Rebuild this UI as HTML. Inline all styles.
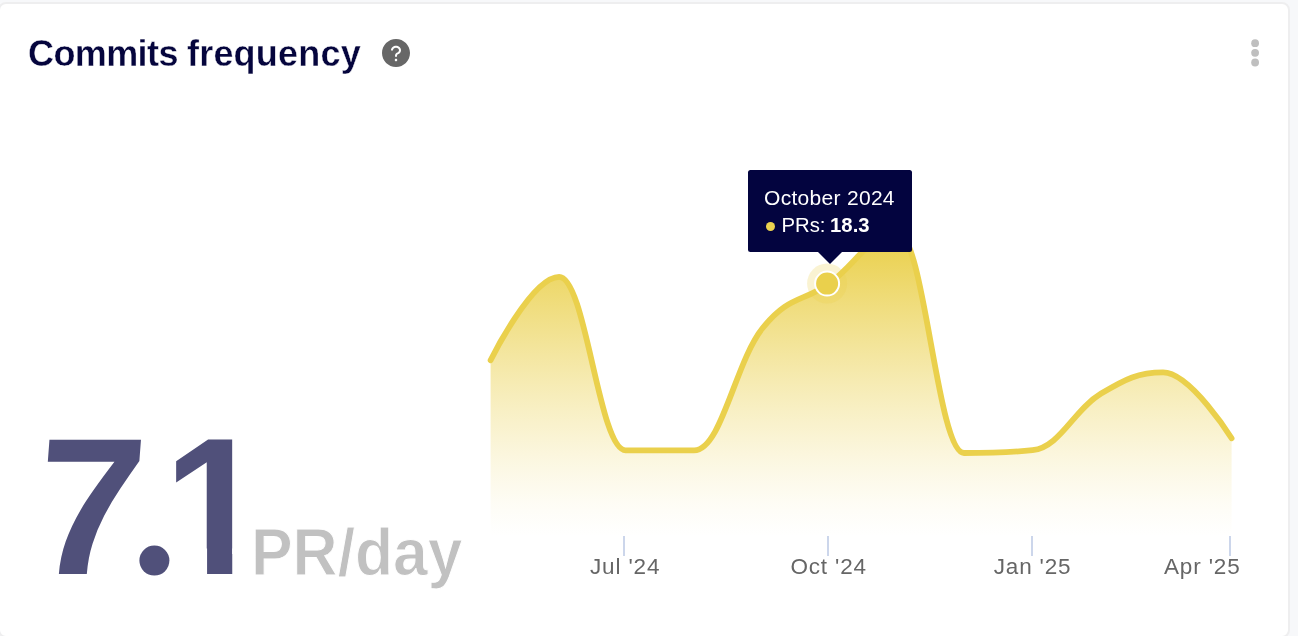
<!DOCTYPE html>
<html lang="en">
<head>
<meta charset="utf-8">
<title>Commits frequency</title>
<style>
  html, body { margin: 0; padding: 0; }
  body {
    width: 1298px; height: 636px; overflow: hidden; position: relative;
    background: #f7f8fa;
    font-family: "Liberation Sans", sans-serif;
  }
  .card {
    position: absolute; left: -2.300px; top: 2px; width: 1292.500px; height: 636px;
    box-sizing: border-box; background: #fff;
    border: 2px solid #eeeeef; border-radius: 8px;
  }
  .title {
    position: absolute; left: 28px; top: 35.900px; margin: 0; width: 340px; height: 36px;
    font-size: 36px; line-height: 36px; font-weight: 700; color: #05053d;
    white-space: nowrap; -webkit-text-stroke: 0.350px #ffffff;
  }
  .title .w1 { position: absolute; left: 0; top: 0; letter-spacing: -0.6px; }
  .title .w2 { position: absolute; left: 159px; top: 0; letter-spacing: 0.2px; }
  .help { position: absolute; left: 380px; top: 37px; width: 32px; height: 32px; }
  .more { position: absolute; left: 1239px; top: 37px; width: 32px; height: 32px; }
  .big {
    position: absolute; left: 0; top: 0; margin: 0;
    font-weight: 700; color: #50507a; white-space: nowrap;
    font-size: 195px; line-height: 195px;
  }
  .big span { position: absolute; display: block; }
  .big .d7 { left: 41px; top: 408.500px; transform-origin: 0 31px; transform: skewX(-4.300deg); }
  .big .dp { left: 123.400px; top: 387.100px; font-size: 225px; line-height: 225px; clip-path: circle(15px at 31px 173.500px); }
  .big .d1 { left: 160px; top: 408.500px; transform-origin: 72.250px 0; transform: scaleX(0.95); clip-path: polygon(0 0, 108px 0, 108px 140px, 72.250px 140px, 72.250px 195px, 45.750px 195px, 45.750px 140px, 0 140px); }
  .unit {
    position: absolute; left: 251px; top: 518.500px; margin: 0;
    font-weight: 700; color: #c1c1c1; white-space: nowrap;
    font-size: 66px; line-height: 66px;
    -webkit-text-stroke: 1px #ffffff;
    transform-origin: 0 0; transform: scaleX(0.945);
  }
  svg.chart { position: absolute; left: 0; top: 0; }
  svg text { font-family: "Liberation Sans", sans-serif; }
  .tip {
    position: absolute; left: 748px; top: 170px; width: 164px; height: 82px;
    background: #03043f; border-radius: 2.500px; color: #fff;
    box-sizing: border-box;
  }
  .tip:after {
    content: ""; position: absolute; left: 70px; top: 81.500px;
    border: 12px solid transparent; border-top-color: #03043f; border-bottom-width: 0;
  }
  .tip .l1 { position: absolute; left: 16px; top: 15.400px; font-size: 21px; line-height: 26px; white-space: nowrap; letter-spacing: 0.3px; }
  .tip .l2 { position: absolute; left: 33.500px; top: 41.900px; font-size: 20.300px; word-spacing: -1px; line-height: 26px; white-space: nowrap; }
  .tip .dot { position: absolute; left: 17.5px; top: 51.5px; width: 9.5px; height: 9.5px; border-radius: 50%; background: #ebd24f; }
  .tip b { font-weight: 700; }
</style>
</head>
<body>
<div class="card"></div>

<h2 class="title"><span class="w1">Commits</span> <span class="w2">frequency</span></h2>

<svg class="help" viewBox="0 0 1024 1024" aria-label="help">
  <path fill="#676767" d="M512 64C264.6 64 64 264.6 64 512s200.6 448 448 448 448-200.6 448-448S759.4 64 512 64zm0 708c-22.100 0-40-17.900-40-40s17.900-40 40-40 40 17.900 40 40-17.900 40-40 40zm62.900-219.500a48.300 48.300 0 0 0-30.900 44.800V620c0 4.400-3.600 8-8 8h-48c-4.400 0-8-3.600-8-8v-21.500c0-23.100 6.700-45.900 19.900-64.900 12.900-18.600 30.900-32.800 52.100-40.900 34-13.100 56-41.600 56-72.700 0-44.100-43.100-80-96-80s-96 35.900-96 80v7.600c0 4.400-3.600 8-8 8h-48c-4.400 0-8-3.600-8-8V420c0-39.300 17.200-76 48.400-103.300C430.400 290.400 470 276 512 276s81.600 14.500 111.600 40.700C654.800 344 672 380.700 672 420c0 57.800-38.100 109.800-97.100 132.500z"/>
</svg>

<svg class="more" viewBox="0 0 32 32" aria-label="more">
  <circle cx="16.1" cy="6.2" r="3.900" fill="#bfbfbf"/>
  <circle cx="16.1" cy="15.85" r="3.900" fill="#bfbfbf"/>
  <circle cx="16.1" cy="25.5" r="3.900" fill="#bfbfbf"/>
</svg>

<svg class="chart" width="1298" height="636" viewBox="0 0 1298 636">
  <defs>
    <linearGradient id="g" gradientUnits="userSpaceOnUse" x1="0" y1="229" x2="0" y2="536">
      <stop offset="0.0" stop-color="#ead04c" stop-opacity="1.000"/>
      <stop offset="0.1" stop-color="#ead04c" stop-opacity="0.916"/>
      <stop offset="0.2" stop-color="#ead04c" stop-opacity="0.786"/>
      <stop offset="0.3" stop-color="#ead04c" stop-opacity="0.660"/>
      <stop offset="0.4" stop-color="#ead04c" stop-opacity="0.540"/>
      <stop offset="0.5" stop-color="#ead04c" stop-opacity="0.426"/>
      <stop offset="0.6" stop-color="#ead04c" stop-opacity="0.319"/>
      <stop offset="0.7" stop-color="#ead04c" stop-opacity="0.220"/>
      <stop offset="0.8" stop-color="#ead04c" stop-opacity="0.130"/>
      <stop offset="0.9" stop-color="#ead04c" stop-opacity="0.053"/>
      <stop offset="1.0" stop-color="#ead04c" stop-opacity="0.000"/>
    </linearGradient>
  </defs>
  <path d="M490.60 360.30 C490.60 360.30 531.74 276.80 559.17 276.80 C585.71 276.80 598.99 450.30 625.53 450.30 C652.96 450.30 666.67 450.30 694.10 450.30 C721.53 450.30 735.24 361.89 762.67 328.00 C789.21 295.21 802.48 302.39 829.03 283.60 C856.45 264.19 870.17 232.50 897.60 232.50 C924.14 232.50 937.41 453.00 963.96 453.00 C991.38 453.00 1005.10 453.00 1032.53 450.20 C1059.95 447.40 1073.67 409.85 1101.10 393.50 C1125.87 378.73 1138.26 372.40 1163.03 372.40 C1190.46 372.40 1231.60 438.30 1231.60 438.30 L1231.60 536 L490.60 536 Z" fill="url(#g)"/>
  <path d="M490.60 360.30 C490.60 360.30 531.74 276.80 559.17 276.80 C585.71 276.80 598.99 450.30 625.53 450.30 C652.96 450.30 666.67 450.30 694.10 450.30 C721.53 450.30 735.24 361.89 762.67 328.00 C789.21 295.21 802.48 302.39 829.03 283.60 C856.45 264.19 870.17 232.50 897.60 232.50 C924.14 232.50 937.41 453.00 963.96 453.00 C991.38 453.00 1005.10 453.00 1032.53 450.20 C1059.95 447.40 1073.67 409.85 1101.10 393.50 C1125.87 378.73 1138.26 372.40 1163.03 372.40 C1190.46 372.40 1231.60 438.30 1231.60 438.30" fill="none" stroke="#ead04c" stroke-width="5.800" stroke-linejoin="round" stroke-linecap="round"/>
  <g stroke="#ccd6eb" stroke-width="2">
    <line x1="624" y1="536" x2="624" y2="556"/>
    <line x1="828" y1="536" x2="828" y2="556"/>
    <line x1="1032" y1="536" x2="1032" y2="556"/>
    <line x1="1230" y1="536" x2="1230" y2="556"/>
  </g>
  <g fill="#666666" font-size="22.500" letter-spacing="0.85">
    <text x="590" y="573.700">Jul '24</text>
    <text x="790.400" y="573.700">Oct '24</text>
    <text x="993.700" y="573.700">Jan '25</text>
    <text x="1164" y="573.700">Apr '25</text>
  </g>
  <circle cx="827.100" cy="283.600" r="20" fill="#ead04c" fill-opacity="0.25"/>
  <circle cx="827.100" cy="283.600" r="12" fill="#ead04c" stroke="#ffffff" stroke-width="2"/>
</svg>

<p class="big"><span class="d7">7</span><span class="dp">.</span><span class="d1">1</span></p>
<p class="unit">PR/day</p>

<div class="tip">
  <div class="l1">October 2024</div>
  <span class="dot"></span>
  <div class="l2">PRs: <b>18.3</b></div>
</div>
</body>
</html>
